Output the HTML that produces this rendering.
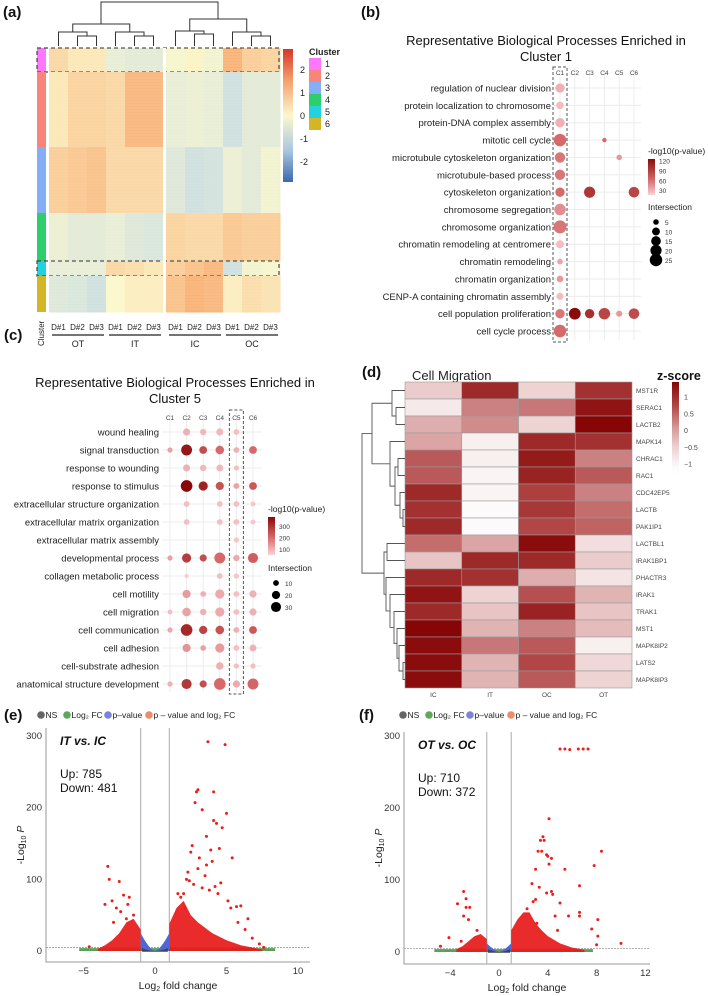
<!DOCTYPE html>
<html><head><meta charset="utf-8"><style>
html,body{margin:0;padding:0;background:#fff;}
svg{display:block;font-family:"Liberation Sans",Arial,sans-serif;}
</style></head><body>
<svg id="fig" width="708" height="996" viewBox="0 0 708 996" xmlns="http://www.w3.org/2000/svg"></svg>
<script>
// ---------- DATA ----------
// Panel a
const aGroups=['OT','IT','IC','OC'];
const aReps=['D#1','D#2','D#3'];
const aClusterIds=['1','2','3','4','5','6'];
const aClusterGenes=[120,375,330,240,75,180];
const aClusterColors=['#ff77ff','#f8847a','#85aef9','#2ccf6b','#22d3dd','#d3b526'];
const aValues=[
 [0.6,0.3,0.3,-0.4,-0.5,-0.5,-0.1,0.1,-0.2,1.3,0.8,0.7],
 [0.3,0.7,0.7,0.6,1.2,1.2,-0.4,-0.3,-0.4,-0.9,-0.5,-0.5],
 [0.8,0.9,1.0,0.6,0.6,0.6,-0.6,-0.9,-0.8,-0.3,-0.5,-0.2],
 [-0.3,-0.5,-0.5,-0.4,-0.6,-0.7,0.7,0.6,0.6,0.9,0.8,0.8],
 [-0.4,-0.4,-0.4,0.6,0.5,0.3,0.8,1.0,1.2,-0.9,-0.2,-0.1],
 [-0.6,-0.7,-0.9,0.0,0.2,0.2,1.0,1.3,1.2,0.2,0.5,0.4]];
const aTicks=[2,1,0,-1,-2];
// Panel b
const bTerms=['regulation of nuclear division','protein localization to chromosome','protein-DNA complex assembly','mitotic cell cycle','microtubule cytoskeleton organization','microtubule-based process','cytoskeleton organization','chromosome segregation','chromosome organization','chromatin remodeling at centromere','chromatin remodeling','chromatin organization','CENP-A containing chromatin assembly','cell population proliferation','cell cycle process'];
const bCols=['C1','C2','C3','C4','C5','C6'];
const bSize=[[14,0,0,0,0,0],[9,0,0,0,0,0],[14,0,0,0,0,0],[25,0,0,3,0,0],[17,0,0,0,5,0],[17,0,0,0,0,0],[14,0,20,0,0,18],[21,0,0,0,0,0],[27,0,0,0,0,0],[10,0,0,0,0,0],[5,0,0,0,0,0],[7,0,0,0,0,0],[8,0,0,0,0,0],[14,22,14,21,6,18],[25,0,0,0,0,0]];
const bP=[[30,0,0,0,0,0],[25,0,0,0,0,0],[30,0,0,0,0,0],[60,0,0,60,0,0],[55,0,0,0,40,0],[55,0,0,0,0,0],[60,0,95,0,0,85],[45,0,0,0,0,0],[55,0,0,0,0,0],[25,0,0,0,0,0],[35,0,0,0,0,0],[40,0,0,0,0,0],[25,0,0,0,0,0],[55,125,100,85,40,80],[60,0,0,0,0,0]];
const bPTicks=[120,90,60,30];
const bSizeTicks=[5,10,15,20,25];
// Panel c
const cTerms=['wound healing','signal transduction','response to wounding','response to stimulus','extracellular structure organization','extracellular matrix organization','extracellular matrix assembly','developmental process','collagen metabolic process','cell motility','cell migration','cell communication','cell adhesion','cell-substrate adhesion','anatomical structure development'];
const cCols=['C1','C2','C3','C4','C5','C6'];
const cSize=[[0,15,12,15,10,0],[8,35,18,22,10,18],[0,15,12,14,8,0],[0,40,25,20,10,18],[0,10,0,10,10,7],[0,10,0,10,10,7],[0,0,0,0,8,0],[8,25,15,35,12,30],[0,5,0,10,8,0],[0,20,10,25,10,15],[7,22,12,25,10,15],[8,40,20,22,10,18],[0,20,10,25,10,14],[0,0,0,17,8,8],[8,30,15,40,15,35]];
const cP=[[0,100,90,90,80,0],[120,350,250,200,100,200],[0,100,90,90,80,0],[0,380,330,240,120,230],[0,80,0,80,80,70],[0,80,0,80,80,70],[0,0,0,0,70,0],[120,280,250,200,110,220],[0,60,0,80,70,0],[0,130,100,110,80,100],[80,120,100,110,80,100],[110,320,270,240,100,230],[0,140,120,130,80,100],[0,0,0,100,80,80],[100,290,250,200,110,210]];
const cPTicks=[300,200,100];
const cSizeTicks=[10,20,30];
// Panel d
const dGenes=['MST1R','SERAC1','LACTB2','MAPK14','CHRAC1','RAC1','CDC42EP5','LACTB','PAK1IP1','LACTBL1','IRAK1BP1','PHACTR3','IRAK1','TRAK1','MST1','MAPK8IP2','LATS2','MAPK8IP3'];
const dSamples=['IC','IT','OC','OT'];
const dZ=[[-0.7,1.2,-0.8,1.1],[-1.2,0.2,0.3,1.5],[-0.3,0.1,-0.8,1.7],[-0.2,-1.3,1.2,1.1],[0.6,-1.3,1.4,0.2],[0.6,-1.4,1.3,0.6],[1.2,-1.4,0.9,0.2],[1.1,-1.5,1.0,0.4],[1.2,-1.5,0.8,0.5],[0.4,-0.2,1.6,-1.0],[-0.6,1.2,1.2,-0.7],[1.2,1.1,-0.3,-1.1],[1.5,-0.8,0.7,-0.4],[1.2,-0.6,1.3,-0.6],[1.7,-0.4,0.2,-0.5],[1.6,0.3,0.6,-1.3],[1.6,-0.4,0.8,-0.9],[1.6,-0.4,0.6,-0.8]];
const dZTicks=[1,0.5,0,-0.5,-1];
// Panel e volcano
const eXTicks=[-5,0,5,10];
const eYTicks=[0,100,200,300];
const eRedX=[3.7,4.9,3.0,2.9,4.1,2.8,3.3,5.0,4.1,4.3,4.7,3.6,2.6,3.9,2.5,4.5,3.1,4.0,3.6,5.4,3.0,2.2,2.4,2.7,3.3,3.8,4.4,5.1,5.7,6.0,6.5,6.3,7.3,7.6,4.6,5.3,2.0,1.8,-3.3,-3.2,-2.5,-2.2,-1.8,-3.0,-3.5,-2.7,-1.5,-4.6,-2.4,-1.9,2.3,3.5,4.2,5.8,6.8,2.1,1.6,-2.0,-2.9];
const eRedY=[292,288,225,222,222,207,197,192,182,178,172,160,147,141,138,143,130,125,120,130,115,100,98,93,88,85,80,70,62,63,45,30,10,5,95,60,80,75,118,100,97,78,75,70,65,60,50,6,55,65,110,105,90,40,18,60,80,45,40];
const eEnvRX=[1,1.5,2,2.5,3,4,5,6,7,7.5];
const eEnvRY=[38,60,70,50,40,25,15,8,4,2];
const eEnvLX=[-1,-1.5,-2,-2.5,-3,-3.5,-4];
const eEnvLY=[30,45,40,25,15,8,3];
const eBlueEdge=25;
const eStats=['Up: 785','Down: 481'];
// Panel f volcano
const fXTicks=[-4,0,4,8,12];
const fYTicks=[0,100,200,300];
const fRedX=[5.0,5.4,5.8,6.5,6.9,7.3,4.1,3.6,3.7,3.4,3.9,4.0,3.2,3.5,4.3,4.1,8.4,7.8,3.0,5.4,6.6,4.3,4.4,3.9,2.7,3.3,5.0,3.0,6.6,6.6,8.1,5.7,7.6,8.1,10,8.0,-2.9,-2.7,-3.4,-2.7,-2.4,-2.9,-2.5,-1.8,-4.8,-4.1,-3.1,4.6,2.3,3.1,2.8,4.8];
const fRedY=[282,282,281,282,282,282,185,160,155,155,135,133,140,140,130,122,140,120,115,115,92,84,80,82,95,90,68,73,55,50,45,50,32,22,12,10,84,74,67,62,62,50,45,30,8,20,15,50,60,40,70,30];
const fEnvRX=[1,1.5,2,2.5,3,3.5,4,5,6,7];
const fEnvRY=[30,45,55,55,40,30,22,12,6,3];
const fEnvLX=[-1,-1.5,-2,-2.5,-3,-3.5];
const fEnvLY=[18,25,22,15,8,4];
const fBlueEdge=12;
const fStats=['Up: 710','Down: 372'];

// ---------- HELPERS ----------
const NS='http://www.w3.org/2000/svg';
const svg=document.getElementById('fig');
function mk(tag,attrs,parent){const el=document.createElementNS(NS,tag);for(const k in attrs)el.setAttribute(k,attrs[k]);(parent||svg).appendChild(el);return el;}
function txt(s,attrs,parent){const t=mk('text',attrs,parent);t.textContent=s;return t;}
function hex(h){return [parseInt(h.substr(1,2),16),parseInt(h.substr(3,2),16),parseInt(h.substr(5,2),16)];}
function ramp(stops,v){
  if(v<=stops[0][0])return stops[0][1];
  if(v>=stops[stops.length-1][0])return stops[stops.length-1][1];
  for(let i=0;i<stops.length-1;i++){const a=stops[i],b=stops[i+1];if(v>=a[0]&&v<=b[0]){const t=(v-a[0])/(b[0]-a[0]);const ca=hex(a[1]),cb=hex(b[1]);return 'rgb('+ca.map((c,k)=>Math.round(c+(cb[k]-c)*t)).join(',')+')';}}
}
function group(name){const g=mk('g',{});return g;}
function panelLabel(s,x,y,name){const t=txt(s,{x:x,y:y,'font-size':15,'font-weight':'bold',fill:'#111'});}

// ---------- PANEL A ----------
const heatStops=[[-2.8,'#3a6aad'],[-1.3,'#bcd6e8'],[0,'#fbf8cc'],[1.3,'#f9b377'],[2.8,'#d8352a']];
(function(){
 const g=group('panel-a-heatmap');
 panelLabel('(a)',3,17,'panel-a-label');
 const top=48,H=264,cw=19;
 const colX=j=>(j<6?49:166)+cw*(j%6);
 const totalGenes=aClusterGenes.reduce((a,b)=>a+b,0);
 let y=top;
 aClusterGenes.forEach((n,i)=>{
  const h=n/totalGenes*H;
  for(let j=0;j<12;j++){
   const r=mk('rect',{x:colX(j),y:y,width:cw+0.5,height:h+0.5,fill:ramp(heatStops,aValues[i][j])},g);
   
   
  }
  const cb=mk('rect',{x:37,y:y,width:9,height:h,fill:aClusterColors[i]},g);
  
  
  if(i===0||i===4){
   const bx=mk('rect',{x:37,y:y,width:242,height:h,fill:'none',stroke:'#444','stroke-width':1.2,'stroke-dasharray':'4,3'},g);
   
   
  }
  y+=h;
 });
 for(let yy=top;yy<top+H;yy+=3){const s=mk('line',{x1:49,x2:279,y1:yy,y2:yy,stroke:'#fff','stroke-opacity':0.12,'stroke-width':1},g);}
 const gap=mk('rect',{x:163,y:top,width:3,height:H,fill:'#fff'},g);
 const cx=j=>colX(j)+cw/2;
 const dg=group('column-dendrogram');
 function link(x1,x2,yj,y1,y2){const p=mk('path',{d:`M${x1},${y1}V${yj}H${x2}V${y2}`,fill:'none',stroke:'#333','stroke-width':1},dg);}
 link(cx(1),cx(2),36,46,46);link(cx(0),(cx(1)+cx(2))/2,32,46,36);
 link(cx(4),cx(5),36,46,46);link(cx(3),(cx(4)+cx(5))/2,32,46,36);
 link((cx(0)+(cx(1)+cx(2))/2)/2,(cx(3)+(cx(4)+cx(5))/2)/2,24,32,32);
 link(cx(7),cx(8),34,46,46);link(cx(6),(cx(7)+cx(8))/2,31,46,34);
 link(cx(10),cx(11),36,46,46);link(cx(9),(cx(10)+cx(11))/2,32,46,36);
 link((cx(6)+(cx(7)+cx(8))/2)/2,(cx(9)+(cx(10)+cx(11))/2)/2,19,31,32);
 link(101,218,2,24,19);
 for(let j=0;j<12;j++){const t=txt(aReps[j%3],{x:cx(j),y:330,'font-size':8,'text-anchor':'middle',fill:'#222'},g);}
 aGroups.forEach((gn,k)=>{
  const x1=colX(k*3)+3,x2=colX(k*3+2)+cw-2;
  const l=mk('line',{x1:x1,x2:x2,y1:335,y2:335,stroke:'#222','stroke-width':1.3},g);
  const t=txt(gn,{x:(x1+x2)/2,y:347,'font-size':9,'text-anchor':'middle',fill:'#222'},g);
 });
 const ct=txt('Cluster',{x:0,y:0,'font-size':8,fill:'#222',transform:'translate(44,346) rotate(-90)'},g);
 const defs=mk('defs',{});
 const lg=mk('linearGradient',{id:'gA',x1:0,y1:1,x2:0,y2:0},defs);
 [-2.9,-1.5,0,1.5,2.9].forEach((v,k)=>{mk('stop',{offset:(v+2.9)/5.8,'stop-color':ramp(heatStops,v)},lg);});
 const cbr=mk('rect',{x:283,y:49,width:10,height:133,fill:'url(#gA)'},g);
 const vY=v=>116-v*23;
 aTicks.forEach(v=>{const t=txt(String(v),{x:300,y:vY(v)+3,'font-size':9,fill:'#222'},g);});
 const lt=txt('Cluster',{x:309,y:55,'font-size':9,'font-weight':'bold',fill:'#222'},g);
 aClusterIds.forEach((id,i)=>{
  const r=mk('rect',{x:309,y:58+i*12,width:12,height:12,fill:aClusterColors[i]},g);
  const t=txt(id,{x:325,y:67+i*12,'font-size':9,fill:'#222'},g);
 });
})();

// ---------- DOT PLOTS ----------
function dotPlot(o){
 const g=group(o.name);
 const rowY=i=>o.y0+i*o.dy, colX=j=>o.x0+j*o.dx;
 const bg=group(o.name+'-grid');g.appendChild(bg);
 o.cols.forEach((c,j)=>{const l=mk('line',{x1:colX(j),x2:colX(j),y1:o.gy1,y2:o.gy2,stroke:'#ececec','stroke-width':1},bg);});
 o.terms.forEach((t,i)=>{const l=mk('line',{x1:o.gx1,x2:o.gx2,y1:rowY(i),y2:rowY(i),stroke:'#ececec','stroke-width':1},bg);});
 o.title.forEach((s,k)=>{const t=txt(s,{x:o.tx,y:o.ty+k*16,'font-size':13,'text-anchor':'middle',fill:'#111'},g);});
 o.cols.forEach((c,j)=>{const t=txt(c,{x:colX(j),y:o.hy,'font-size':6.5,'text-anchor':'middle',fill:'#444'},g);});
 o.terms.forEach((s,i)=>{const t=txt(s,{x:o.lx,y:rowY(i)+3.5,'font-size':9.5,'text-anchor':'end',fill:'#222'},g);});
 o.size.forEach((row,i)=>row.forEach((s,j)=>{
  if(!s)return;
  const c=mk('circle',{cx:colX(j),cy:rowY(i),r:o.rf(s),fill:ramp(o.stops,o.p[i][j])},g);
  
  
 }));
 const bx=mk('rect',{x:colX(o.hl)-7,y:o.gy1-2,width:14,height:o.gy2-o.gy1+4,fill:'none',stroke:'#555','stroke-width':1,'stroke-dasharray':'3,2'},g);
 
 const lt=txt('-log10(p-value)',{x:o.lgx,y:o.lgy,'font-size':8.5,fill:'#222'},g);
 const id='grad'+o.name;const defs=mk('defs',{});const lg=mk('linearGradient',{id:id,x1:0,y1:1,x2:0,y2:0},defs);
 for(let k=0;k<=4;k++){const v=o.pmin+(o.pmax-o.pmin)*k/4;mk('stop',{offset:k/4,'stop-color':ramp(o.stops,v)},lg);}
 const cb=mk('rect',{x:o.lgx,y:o.lgy+5,width:7,height:o.cbh,fill:'url(#'+id+')'},g);
 const pY=v=>o.lgy+5+o.cbh*(1-(v-o.pmin)/(o.pmax-o.pmin));
 o.pticks.forEach(v=>{const t=txt(String(v),{x:o.lgx+11,y:pY(v)+3,'font-size':6.5,fill:'#333'},g);});
 const it=txt('Intersection',{x:o.lgx,y:o.igy,'font-size':8.5,fill:'#222'},g);
 o.sticks.forEach((s,k)=>{
  const yy=o.igy+12+k*o.sdy;
  const c=mk('circle',{cx:o.lgx+8,cy:yy,r:o.rf(s),fill:'#000'},g);
  const t=txt(String(s),{x:o.lgx+17,y:yy+3,'font-size':6.5,fill:'#333'},g);
 });
}
panelLabel('(b)',361,17,'panel-b-label');
dotPlot({name:'panel-b-dotplot',terms:bTerms,cols:bCols,size:bSize,p:bP,x0:560,dx:14.8,y0:88,dy:17.36,gx1:553,gx2:641,gy1:69,gy2:340,
 title:['Representative Biological Processes Enriched in','Cluster 1'],tx:546,ty:45,hy:75,lx:551,
 rf:s=>1.25*Math.sqrt(s),stops:[[15,'#fad3d8'],[60,'#d66a6a'],[125,'#8a0a0a']],pmin:15,pmax:125,hl:0,
 lgx:648,lgy:154,cbh:36,pticks:bPTicks,igy:210,sdy:9.5,sticks:bSizeTicks});
panelLabel('(c)',4,340,'panel-c-label');
dotPlot({name:'panel-c-dotplot',terms:cTerms,cols:cCols,size:cSize,p:cP,x0:170,dx:16.6,y0:432,dy:18,gx1:162,gx2:262,gy1:412,gy2:692,
 title:['Representative Biological Processes Enriched in','Cluster 5'],tx:175,ty:387,hy:420,lx:159,
 rf:s=>0.92*Math.sqrt(s),stops:[[50,'#fbd3d8'],[200,'#d8696b'],[380,'#8a0707']],pmin:50,pmax:380,hl:4,
 lgx:268,lgy:512,cbh:38,pticks:cPTicks,igy:571,sdy:12,sticks:cSizeTicks});

// ---------- PANEL D ----------
const dStops=[[-1.5,'#fcfafa'],[-0.75,'#edd0d0'],[0,'#d49595'],[0.75,'#b44a4a'],[1.7,'#860505']];
(function(){
 const g=group('panel-d-heatmap');
 panelLabel('(d)',362,377,'panel-d-label');
 const t0=txt('Cell Migration',{x:412,y:380,'font-size':13,fill:'#222'},g);
 const x0=405,cw=56.75,y0=382,rh=17;
 dZ.forEach((row,i)=>row.forEach((v,j)=>{
  const r=mk('rect',{x:x0+j*cw,y:y0+i*rh,width:cw,height:rh,fill:ramp(dStops,v),stroke:'#9a9a9a','stroke-width':0.6},g);
  
  
 }));
 dGenes.forEach((s,i)=>{const t=txt(s,{x:x0+4*cw+4,y:y0+i*rh+11,'font-size':6.5,fill:'#444'},g);});
 dSamples.forEach((s,j)=>{const t=txt(s,{x:x0+j*cw+cw/2,y:y0+18*rh+9,'font-size':6.5,'text-anchor':'middle',fill:'#444'},g);});
 const tree=[[[0,[1,2,396],392],[3,[[4,5,398],[6,[7,8,403],400],395],390],372],[[9,10,387],[11,[12,[13,[14,[15,[16,17,403],399],397],394],390],386],384],376];
 const leafY=i=>y0+i*rh+rh/2;
 function draw(n){if(typeof n==='number')return {y:leafY(n),x:x0};
  const a=draw(n[0]),b=draw(n[1]);const xx=n[2];
  const p=mk('path',{d:`M${a.x},${a.y}H${xx}V${b.y}H${b.x}`,fill:'none',stroke:'#555','stroke-width':0.9},g);
  
  return {y:(a.y+b.y)/2,x:xx};}
 const L=draw(tree[0]),R=draw(tree[1]);
 const p=mk('path',{d:`M${L.x},${L.y}H${362}V${R.y}H${R.x}`,fill:'none',stroke:'#555','stroke-width':0.9},g);
 
 const zt=txt('z-score',{x:657,y:380,'font-size':12.5,'font-weight':'bold',fill:'#111'},g);
 const defs=mk('defs',{});const lg=mk('linearGradient',{id:'gD',x1:0,y1:1,x2:0,y2:0},defs);
 mk('stop',{offset:0,'stop-color':'#ffffff'},lg);
 [-1.5,-0.75,0,0.75,1.7].forEach(v=>mk('stop',{offset:(v+1.9)/3.6,'stop-color':ramp(dStops,v)},lg));
 const cb=mk('rect',{x:672,y:382,width:7,height:95,fill:'url(#gD)'},g);
 const zY=v=>430-v*33.5;
 dZTicks.forEach(v=>{const t=txt(String(v).replace('-','−'),{x:684,y:zY(v)+3,'font-size':7,fill:'#444'},g);});
})();

// ---------- VOLCANOES ----------
function volcano(o){
 const g=group(o.name);
 const X=v=>o.x0+v*o.kx, Y=v=>o.y0-v*o.ky;
 const items=[['NS','#666'],['Log₂ FC','#5aaa5a'],['p–value','#7b84d8'],['p – value and log₂ FC','#f08a6a']];
 let lx=o.legX;
 items.forEach((it,k)=>{
  const c=mk('circle',{cx:lx,cy:o.legY-3,r:3.8,fill:it[1]},g);
  const t=txt(it[0],{x:lx+4.5,y:o.legY,'font-size':8.5,fill:'#222'},g);
  lx+=[26,41,41,0][k];
 });
 const ax=mk('path',{d:`M${o.left},${o.top}V${o.bottom}H${o.right}`,fill:'none',stroke:'#999','stroke-width':1},g);
 o.xt.forEach(v=>{const t=txt(String(v).replace('-','−'),{x:X(v),y:o.bottom+12,'font-size':9.5,'text-anchor':'middle',fill:'#333'},g);});
 o.yt.forEach(v=>{const t=txt(String(v),{x:o.left-4,y:Y(v)+3,'font-size':9.5,'text-anchor':'end',fill:'#333'},g);});
 [-1,1].forEach(v=>{const l=mk('line',{x1:X(v),x2:X(v),y1:o.top,y2:o.bottom,stroke:'#aaa','stroke-width':1},g);});
 const hl=mk('line',{x1:o.left,x2:o.right,y1:Y(5),y2:Y(5),stroke:'#999','stroke-width':0.8,'stroke-dasharray':'2,1'},g);
 const gb=mk('rect',{x:X(o.gmin),y:Y(4),width:X(o.gmax)-X(o.gmin),height:Y(0)-Y(4),fill:'#2e8b2e',opacity:0.8},g);
 function env(xs,ys,nm){let d=`M${X(xs[0])},${Y(0)}`;xs.forEach((x,i)=>{d+=`L${X(x)},${Y(ys[i])}`;});d+=`L${X(xs[xs.length-1])},${Y(0)}Z`;const p=mk('path',{d:d,fill:'#e8191a',opacity:0.92},g);}
 env(o.envRX,o.envRY,'significant-up-cloud');env(o.envLX,o.envLY,'significant-down-cloud');
 const bl=mk('path',{d:`M${X(-1)},${Y(o.blue)}Q${X(-0.4)},${Y(2)} ${X(0)},${Y(0)}Q${X(0.4)},${Y(2)} ${X(1)},${Y(o.blue)}L${X(1)},${Y(0)}L${X(-1)},${Y(0)}Z`,fill:'#4a68d8'},g);
 const gr=mk('path',{d:`M${X(-0.9)},${Y(4)}Q${X(0)},${Y(-4)} ${X(0.9)},${Y(4)}L${X(0.9)},${Y(-1)}L${X(-0.9)},${Y(-1)}Z`,fill:'#444'},g);
 o.rx.forEach((x,i)=>{const c=mk('circle',{cx:X(x),cy:Y(o.ry[i]),r:1.5,fill:'#ee1c1c'},g);});
 const yl=mk('text',{x:0,y:0,'font-size':10.5,'text-anchor':'middle',fill:'#222',transform:`translate(${o.left-22},${(o.top+o.bottom)/2}) rotate(-90)`},g);
 yl.innerHTML='-Log<tspan font-size="7" dy="2">10</tspan><tspan dy="-2" font-style="italic"> P</tspan>';
 
 const xl=mk('text',{x:(o.left+o.right)/2,y:o.bottom+27,'font-size':10.5,'text-anchor':'middle',fill:'#222'},g);
 xl.innerHTML='Log<tspan font-size="7" dy="2">2</tspan><tspan dy="-2"> fold change</tspan>';
 
 const cmp=txt(o.cmp,{x:o.left+14,y:o.top+17,'font-size':12,'font-weight':'bold','font-style':'italic',fill:'#111'},g);
 o.stats.forEach((s,k)=>{const t=txt(s,{x:o.left+14,y:o.top+50+k*14,'font-size':12,fill:'#111'},g);});
}
panelLabel('(e)',4,720,'panel-e-label');
volcano({name:'panel-e-volcano',x0:155,kx:14.3,y0:951,ky:0.7167,left:46,right:310,top:728,bottom:962,legX:41,legY:718,
 xt:eXTicks,yt:eYTicks,rx:eRedX,ry:eRedY,envRX:eEnvRX,envRY:eEnvRY,envLX:eEnvLX,envLY:eEnvLY,blue:eBlueEdge,gmin:-5.3,gmax:8.4,cmp:'IT vs. IC',stats:eStats});
panelLabel('(f)',359,720,'panel-f-label');
volcano({name:'panel-f-volcano',x0:499,kx:12.2,y0:952,ky:0.72,left:404,right:650,top:732,bottom:964,legX:403,legY:718,
 xt:fXTicks,yt:fYTicks,rx:fRedX,ry:fRedY,envRX:fEnvRX,envRY:fEnvRY,envLX:fEnvLX,envLY:fEnvLY,blue:fBlueEdge,gmin:-5.3,gmax:7.7,cmp:'OT vs. OC',stats:fStats});
</script>
</body></html>
